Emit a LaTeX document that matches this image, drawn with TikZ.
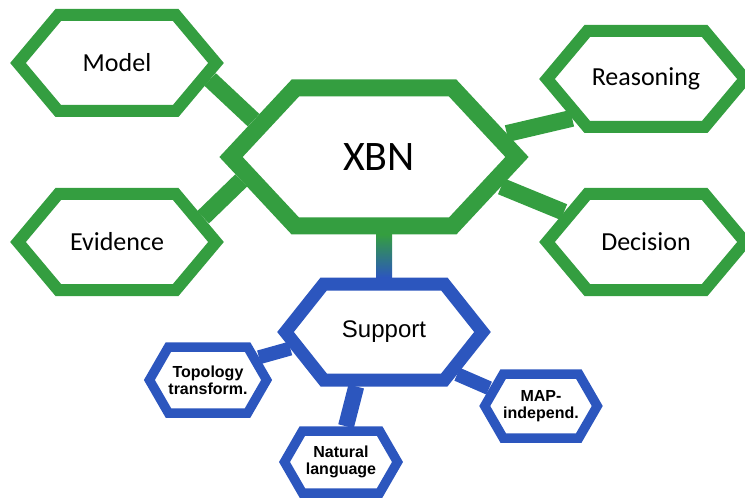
\documentclass[tikz,border=0pt]{standalone}
\usepackage{fontspec}
\setmainfont{Carlito}
\newfontfamily\arialfont{Liberation Sans}
\usetikzlibrary{shapes.symbols,backgrounds,calc}
\definecolor{hexgreen}{RGB}{52,158,64}
\definecolor{hexblue}{RGB}{44,86,190}
\tikzset{
  hexa/.style={signal, signal to=west and east, fill=white, inner sep=0pt, align=center},
  greenhex/.style={hexa, draw=hexgreen, line width=12pt, minimum width=198pt, minimum height=96pt,
    signal pointer angle=100, font=\fontsize{26}{30}\selectfont},
  bluehex/.style={hexa, draw=hexblue, line width=9.5pt, minimum width=112pt, minimum height=64pt,
    signal pointer angle=120, font=\arialfont\bfseries\fontsize{16}{17}\selectfont},
  greenbar/.style={draw=hexgreen, line width=17pt},
  bluebar/.style={draw=hexblue, line width=14pt}
}
\begin{document}
\begin{tikzpicture}[x=1pt,y=-1pt]
\useasboundingbox (0,0) rectangle (745,500);

\node[hexa, draw=hexgreen, line width=17pt, minimum width=286pt, minimum height=138pt,
  signal pointer angle=94, font=\fontsize{42}{46}\selectfont] (xbn) at (374,157) {\hspace*{10pt}XBN};
\node[greenhex] (model) at (117,63) {Model};
\node[greenhex] (reasoning) at (646,79) {Reasoning};
\node[greenhex] (evidence) at (117,242) {Evidence};
\node[greenhex] (decision) at (646,242) {Decision};

\node[hexa, draw=hexblue, line width=13pt, minimum width=197pt, minimum height=96pt,
  signal pointer angle=103, font=\arialfont\fontsize{24}{28}\selectfont] (support) at (384,332) {Support};
\node[bluehex, minimum width=111pt, minimum height=66pt] (topology) at (208,380) {Topology\\transform.};
\node[bluehex, minimum width=113pt, minimum height=62pt] (natural) at (341,462) {Natural\\language};
\node[bluehex] (map) at (541,406) {MAP-\\independ.};

\begin{pgfonlayer}{background}
\draw[greenbar] (model.-10) -- (xbn.163);
\draw[greenbar] (reasoning.208) -- (xbn.10);
\draw[greenbar] (evidence.16) -- (xbn.190);
\draw[greenbar] (decision.160) -- (xbn.-13);
\shade[top color=hexgreen, bottom color=hexblue]
  ($(support.north)+(-8,0)$) rectangle ($(support.north |- xbn.south)+(8,0)$);
\draw[bluebar] (support.190) -- (topology.24);
\draw[bluebar, line width=16pt] (support.243) -- (natural.82);
\draw[bluebar] (support.-30) -- (map.161);
\end{pgfonlayer}
\end{tikzpicture}
\end{document}
